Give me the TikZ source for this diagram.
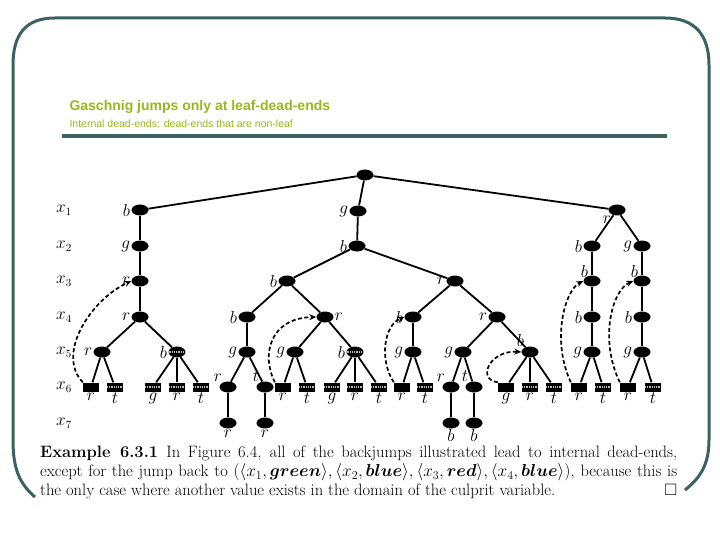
\documentclass[tikz,border=0pt]{standalone}
\usepackage{fontspec}
\usepackage{amsmath,amssymb}
\usetikzlibrary{shapes.geometric,arrows.meta}
\newfontfamily\titlefont{Liberation Sans}
\definecolor{framecol}{RGB}{58,98,98}
\definecolor{titlecol}{RGB}{150,185,25}
\newcommand{\lblfont}{\fontsize{16}{18}\selectfont}
\tikzset{
  val/.style={ellipse, fill=black, minimum width=17pt, minimum height=11pt, inner sep=0pt},
  hatch/.style={path picture={\draw[gray!55, line width=2.2pt, dash pattern=on 1pt off 0.8pt]
    (path picture bounding box.west) -- (path picture bounding box.east);}},
  dead/.style={rectangle, fill=black, minimum width=16pt, minimum height=9pt, inner sep=0pt},
  jump/.style={dash pattern=on 4pt off 2.5pt, line width=1.7pt, -{Stealth[length=7pt,width=6pt]}},
  every label/.style={font=\lblfont, inner sep=1pt},
}
\begin{document}
\begin{tikzpicture}[x=1pt, y=-1pt]
      \useasboundingbox (0,0) rectangle (720,540);
      % slide frame and heading
      \draw[framecol, line width=3pt]
        (35,497) .. controls (20,484) and (13,470) .. (13,440) -- (13,65)
        .. controls (13,35) and (25,18) .. (55,18) -- (665,18)
        .. controls (695,18) and (709,35) .. (709,65) -- (709,440)
        .. controls (709,465) and (700,478) .. (685,490);
      \node[anchor=west, text=titlecol, font=\titlefont\bfseries\fontsize{14}{16}\selectfont] (title) at (66,107) {Gaschnig jumps only at leaf-dead-ends};
      \node[anchor=west, text=titlecol, font=\titlefont\fontsize{10.5}{12}\selectfont] (subtitle) at (66,124) {Internal dead-ends: dead-ends that are non-leaf};
      \draw[framecol, line width=4pt] (62,136) -- (667,136);
      % variables
      \draw[font=\lblfont]
        (64,210) node (x1){$x_1$}
        (64,246) node (x2){$x_2$}
        (64,281) node (x3){$x_3$}
        (64,317) node (x4){$x_4$}
        (64,352) node (x5){$x_5$}
        (64,387) node (x6){$x_6$}
        (64,423) node (x7){$x_7$};
      % search tree
      \draw
        (365,175) node[val] (0){}
        (140,210) node[val,label=left:$b$] (1){}
        (358,211) node[val,label=left:$g$] (2){}
        (617,210) node[val,label=below left:$r$] (3){}
        (140,246) node[val,label=left:$g$] (4){}
        (357,246) node[val,label=left:$b$] (5){}
        (592,246) node[val,label=left:$b$] (6){}
        (642,246) node[val,label=left:$g$] (7){}
        (140,281) node[val,label=left:$r$] (8){}
        (287,281) node[val,label=left:$b$] (9){}
        (455,281) node[val,label=left:$r$] (10){}
        (592,281) node[val,label={[label distance=-3pt]above left:$b$}] (11){}
        (642,281) node[val,label={[label distance=-3pt]above left:$b$}] (12){}
        (140,317) node[val,label=left:$r$] (13){}
        (247,317) node[val,label=left:$b$] (14){}
        (325,317) node[val,label=right:$r$] (15){}
        (413,317) node[val,label=left:$b$] (16){}
        (497,317) node[val,label=left:$r$] (17){}
        (592,317) node[val,label=left:$b$] (18){}
        (642,317) node[val,label=left:$b$] (19){}
        (102,352) node[val,label=left:$r$] (20){}
        (177,352) node[val,hatch,label=left:$b$] (21){}
        (247,352) node[val,label=left:$g$] (22){}
        (295,352) node[val,label=left:$g$] (23){}
        (355,352) node[val,hatch,label=left:$b$] (24){}
        (413,352) node[val,label=left:$g$] (25){}
        (463,352) node[val,label=left:$g$] (26){}
        (530,352) node[val,label=above left:$b$] (27){}
        (592,352) node[val,label=left:$g$] (28){}
        (642,352) node[val,label=left:$g$] (29){}
        (91,387) node[dead,label=below:$r$] (30){}
        (115,387) node[dead,hatch,label=below:$t$] (31){}
        (153,387) node[dead,hatch,label=below:$g$] (32){}
        (177,387) node[dead,hatch,label=below:$r$] (33){}
        (201,387) node[dead,hatch,label=below:$t$] (34){}
        (228,387) node[val,label=above left:$r$] (35){}
        (265,387) node[val,label=above left:$t$] (36){}
        (283,387) node[dead,label=below:$r$] (37){}
        (307,387) node[dead,hatch,label=below:$t$] (38){}
        (332,387) node[dead,hatch,label=below:$g$] (39){}
        (355,387) node[dead,hatch,label=below:$r$] (40){}
        (379,387) node[dead,hatch,label=below:$t$] (41){}
        (402,387) node[dead,label=below:$r$] (42){}
        (425,387) node[dead,hatch,label=below:$t$] (43){}
        (451,387) node[val,label=above left:$r$] (44){}
        (474,387) node[val,label=above left:$t$] (45){}
        (506,387) node[dead,label=below:$g$] (46){}
        (530,387) node[dead,hatch,label=below:$r$] (47){}
        (554,387) node[dead,hatch,label=below:$t$] (48){}
        (579,387) node[dead,label=below:$r$] (49){}
        (603,387) node[dead,hatch,label=below:$t$] (50){}
        (628,387) node[dead,label=below:$r$] (51){}
        (653,387) node[dead,hatch,label=below:$t$] (52){}
        (228,423) node[val,label=below:$r$] (53){}
        (265,423) node[val,label=below:$r$] (54){}
        (451,423) node[val,label=below:$b$] (55){}
        (474,423) node[val,label=below:$b$] (56){};
      \begin{scope}[line width=1.8pt]
        \draw (0) to (1);
        \draw (0) to (2);
        \draw (0) to (3);
        \draw (1) to (4);
        \draw (4) to (8);
        \draw (8) to (13);
        \draw (13) to (20);
        \draw (13) to (21);
        \draw (20) to (30);
        \draw (20) to (31);
        \draw (21) to (32);
        \draw (21) to (33);
        \draw (21) to (34);
        \draw (2) to (5);
        \draw (5) to (9);
        \draw (5) to (10);
        \draw (9) to (14);
        \draw (9) to (15);
        \draw (14) to (22);
        \draw (22) to (35);
        \draw (22) to (36);
        \draw (35) to (53);
        \draw (36) to (54);
        \draw (15) to (23);
        \draw (15) to (24);
        \draw (23) to (37);
        \draw (23) to (38);
        \draw (24) to (39);
        \draw (24) to (40);
        \draw (24) to (41);
        \draw (10) to (16);
        \draw (10) to (17);
        \draw (16) to (25);
        \draw (25) to (42);
        \draw (25) to (43);
        \draw (17) to (26);
        \draw (17) to (27);
        \draw (26) to (44);
        \draw (26) to (45);
        \draw (44) to (55);
        \draw (45) to (56);
        \draw (27) to (46);
        \draw (27) to (47);
        \draw (27) to (48);
        \draw (3) to (6);
        \draw (3) to (7);
        \draw (6) to (11);
        \draw (11) to (18);
        \draw (18) to (28);
        \draw (28) to (49);
        \draw (28) to (50);
        \draw (7) to (12);
        \draw (12) to (19);
        \draw (19) to (29);
        \draw (29) to (51);
        \draw (29) to (52);
      \end{scope}
      % backjumps
      \draw[jump] (30.north west) .. controls +(-27,-28) and +(-41,19) .. (8.west);
      \draw[jump] (37.north west) .. controls +(-14,-28) and +(-46,1) .. (15.west);
      \draw[jump] (42.north west) .. controls +(-15,-23) and +(-20,8) .. (16.west);
      \draw[jump] (46.north west) .. controls +(-22,-3) and +(-31,-2) .. (27.west);
      \draw[jump] (49.north west) .. controls +(-20,-43) and +(-18,9) .. (11.west);
      \draw[jump] (51.north west) .. controls +(-21,-43) and +(-21,9) .. (12.west);
      % example text
      \node[anchor=north west, inner sep=0pt, text width=637pt, align=justify,
            font=\fontsize{16.5}{19}\selectfont] (example) at (40,446)
        {\noindent\textbf{Example 6.3.1}\enspace In Figure 6.4, all of the backjumps illustrated lead to internal dead-ends,\linebreak
         except for the jump back to $(\langle x_1,\boldsymbol{green}\rangle,\langle x_2,\boldsymbol{blue}\rangle,\langle x_3,\boldsymbol{red}\rangle,\langle x_4,\boldsymbol{blue}\rangle)$, because this is\linebreak
         the only case where another value exists in the domain of the culprit variable.\hfill$\square$};
    \end{tikzpicture}
\end{document}
